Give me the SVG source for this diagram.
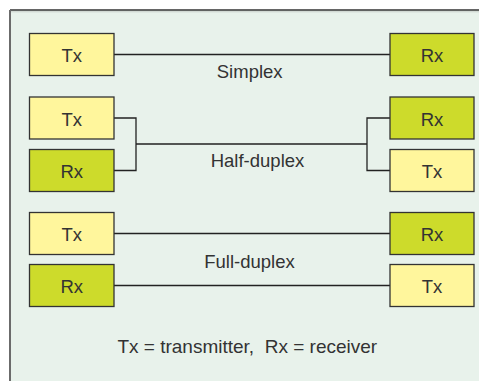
<svg xmlns="http://www.w3.org/2000/svg" width="479" height="381" viewBox="0 0 479 381">
<style>
.tx{fill:#fff69c;stroke:#333;stroke-width:1.3}
.rx{fill:#cddb2b;stroke:#333;stroke-width:1.3}
text{font-family:"Liberation Sans",Arial,sans-serif;font-size:18.5px;fill:#333;text-anchor:middle}
.ln{fill:none;stroke:#222;stroke-width:1.3}
</style>
<rect x="0" y="0" width="479" height="381" fill="#fff"/>
<rect x="10" y="10" width="480" height="380" fill="#e8f2eb"/>
<line x1="10" y1="11.8" x2="479" y2="11.8" stroke="#c9d1cb" stroke-width="1"/>
<line x1="10" y1="10" x2="479" y2="10" stroke="#333" stroke-width="1.6"/>
<line x1="10" y1="10" x2="10" y2="381" stroke="#6b6b6b" stroke-width="2"/>
<g id="connectors">
<path class="ln" d="M114 54.5H390"/>
<path class="ln" d="M114 118H136V170.5H114M136 144H367M390 118H367V170.5H390"/>
<path class="ln" d="M114 233.5H390M114 285.5H390"/>
</g>
<g id="s-tx"><rect class="tx" x="29.5" y="33.5" width="84.5" height="42"/><text x="71.75" y="62">Tx</text></g>
<g id="s-rx"><rect class="rx" x="390" y="33.5" width="84" height="42"/><text x="432" y="62">Rx</text></g>
<g id="h-tx-l"><rect class="tx" x="29.5" y="97" width="84.5" height="42"/><text x="71.75" y="125.5">Tx</text></g>
<g id="h-rx-l"><rect class="rx" x="29.5" y="149.5" width="84.5" height="42"/><text x="71.75" y="178">Rx</text></g>
<g id="h-rx-r"><rect class="rx" x="390" y="97" width="84" height="42"/><text x="432" y="125.5">Rx</text></g>
<g id="h-tx-r"><rect class="tx" x="390" y="149.5" width="84" height="42"/><text x="432" y="178">Tx</text></g>
<g id="f-tx-l"><rect class="tx" x="29.5" y="212.5" width="84.5" height="42"/><text x="71.75" y="241">Tx</text></g>
<g id="f-rx-l"><rect class="rx" x="29.5" y="264.5" width="84.5" height="42"/><text x="71.75" y="293">Rx</text></g>
<g id="f-rx-r"><rect class="rx" x="390" y="212.5" width="84" height="42"/><text x="432" y="241">Rx</text></g>
<g id="f-tx-r"><rect class="tx" x="390" y="264.5" width="84" height="42"/><text x="432" y="293">Tx</text></g>
<text x="249.7" y="78.3">Simplex</text>
<text x="257.5" y="166.5">Half-duplex</text>
<text x="249.5" y="268.3">Full-duplex</text>
<text x="247.3" y="353.3" style="white-space:pre;font-size:19px">Tx = transmitter,  Rx = receiver</text>
</svg>
